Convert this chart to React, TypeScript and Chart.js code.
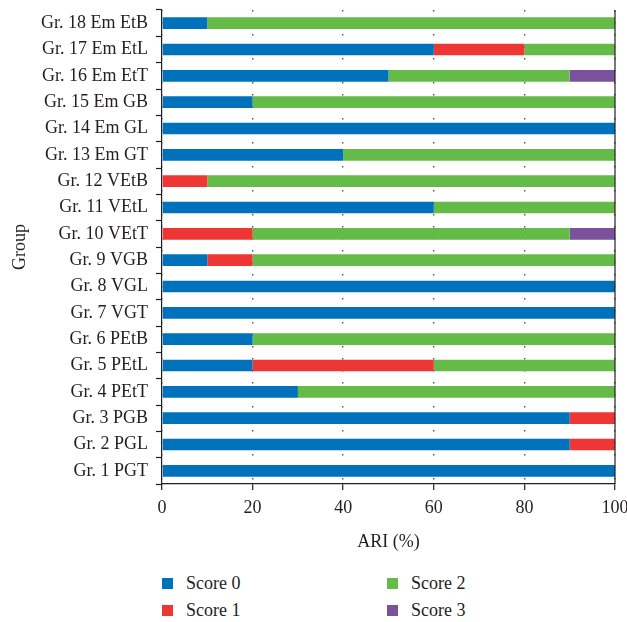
import React, { useEffect, useRef } from "react";
import { Chart, registerables } from "chart.js";

Chart.register(...registerables);

const categories = [
  "Gr. 18 Em EtB",
  "Gr. 17 Em EtL",
  "Gr. 16 Em EtT",
  "Gr. 15 Em GB",
  "Gr. 14 Em GL",
  "Gr. 13 Em GT",
  "Gr. 12 VEtB",
  "Gr. 11 VEtL",
  "Gr. 10 VEtT",
  "Gr. 9 VGB",
  "Gr. 8 VGL",
  "Gr. 7 VGT",
  "Gr. 6 PEtB",
  "Gr. 5 PEtL",
  "Gr. 4 PEtT",
  "Gr. 3 PGB",
  "Gr. 2 PGL",
  "Gr. 1 PGT",
];

const score0 = [10, 60, 50, 20, 100, 40, 0, 60, 0, 10, 100, 100, 20, 20, 30, 90, 90, 100];
const score1 = [0, 20, 0, 0, 0, 0, 10, 0, 20, 10, 0, 0, 0, 40, 0, 10, 10, 0];
const score2 = [90, 20, 40, 80, 0, 60, 90, 40, 70, 80, 0, 0, 80, 40, 70, 0, 0, 0];
const score3 = [0, 0, 10, 0, 0, 0, 0, 0, 10, 0, 0, 0, 0, 0, 0, 0, 0, 0];

const seriesNames = ["Score 0", "Score 1", "Score 2", "Score 3"];
const seriesColors = ["#0072BC", "#EE3734", "#65BB47", "#7B519D"];

const xTicks = [0, 20, 40, 60, 80, 100];

const FONT = "'Liberation Serif', 'Times New Roman', serif";
const TEXT = "#231f20";

const rightBorder = {
  id: "rightBorder",
  afterDatasetsDraw(chart: any) {
    const { ctx, chartArea } = chart;
    ctx.save();
    ctx.strokeStyle = TEXT;
    ctx.lineWidth = 1.2;
    ctx.beginPath();
    ctx.moveTo(chartArea.right, chartArea.top);
    ctx.lineTo(chartArea.right, chartArea.bottom);
    ctx.stroke();
    ctx.restore();
  },
};

export default function App() {
  const ref = useRef<HTMLCanvasElement>(null);
  useEffect(() => {
    if (!ref.current) return;
    const data = [score0, score1, score2, score3];
    const chart = new Chart(ref.current, {
      type: "bar",
      data: {
        labels: categories,
        datasets: data.map((d, i) => ({
          label: seriesNames[i],
          data: d,
          backgroundColor: seriesColors[i],
          borderWidth: 0,
          categoryPercentage: 1,
          barPercentage: 0.44,
        })),
      },
      options: {
        indexAxis: "y",
        animation: false,
        responsive: false,
        maintainAspectRatio: false,
        layout: { padding: { top: 10, right: 0, left: 11, bottom: 0 } },
        plugins: {
          legend: { display: false },
          tooltip: { enabled: false },
        },
        scales: {
          x: {
            type: "linear",
            stacked: true,
            min: 0,
            max: 100,
            afterBuildTicks: (axis: any) => {
              axis.ticks = xTicks.map((v) => ({ value: v }));
            },
            afterFit: (scale: any) => {
              scale.paddingRight = 12;
            },
            ticks: {
              color: TEXT,
              font: { family: FONT, size: 18, lineHeight: 1 },
              padding: 9,
            },
            grid: {
              color: "#555",
              lineWidth: 1.4,
              tickColor: TEXT,
              tickLength: 6,
              tickWidth: 1.2,
              tickBorderDash: [],
            },
            border: { display: true, color: TEXT, width: 1.2, dash: [1.6, 10.4] },
            title: {
              display: true,
              text: "ARI (%)",
              color: TEXT,
              font: { family: FONT, size: 18, lineHeight: 1 },
              padding: { top: 7, bottom: 0 },
            },
          },
          y: {
            stacked: true,
            afterFit: (scale: any) => {
              scale.paddingTop = 0;
              scale.paddingBottom = 0;
            },
            ticks: {
              color: TEXT,
              font: { family: FONT, size: 18, lineHeight: 1 },
              padding: 8,
            },
            grid: {
              display: true,
              drawOnChartArea: false,
              offset: true,
              tickColor: TEXT,
              tickLength: 6,
              tickWidth: 1.2,
            },
            border: { display: true, color: TEXT, width: 1.2 },
            title: {
              display: true,
              text: "Group",
              color: TEXT,
              font: { family: FONT, size: 18, lineHeight: 1 },
              padding: { top: 0, bottom: 4 },
            },
          },
        },
      },
      plugins: [rightBorder],
    });
    return () => chart.destroy();
  }, []);

  const legendPos = [
    { left: 162, top: 577 },
    { left: 162, top: 604 },
    { left: 387, top: 577 },
    { left: 387, top: 604 },
  ];

  return (
    <div style={{ position: "absolute", left: 0, top: 0, width: 627, height: 622 }}>
      <canvas ref={ref} width={627} height={551} style={{ position: "absolute", left: 0, top: 0, width: 627, height: 551 }} />
      {seriesNames.map((name, i) => (
        <div
          key={name}
          style={{
            position: "absolute",
            left: legendPos[i].left,
            top: legendPos[i].top,
            display: "flex",
            alignItems: "center",
            fontFamily: FONT,
            fontSize: 18,
            color: TEXT,
            height: 12,
            whiteSpace: "nowrap",
          }}
        >
          <span style={{ display: "inline-block", width: 11, height: 11, background: seriesColors[i], marginRight: 13 }} />
          <span>{name}</span>
        </div>
      ))}
    </div>
  );
}
